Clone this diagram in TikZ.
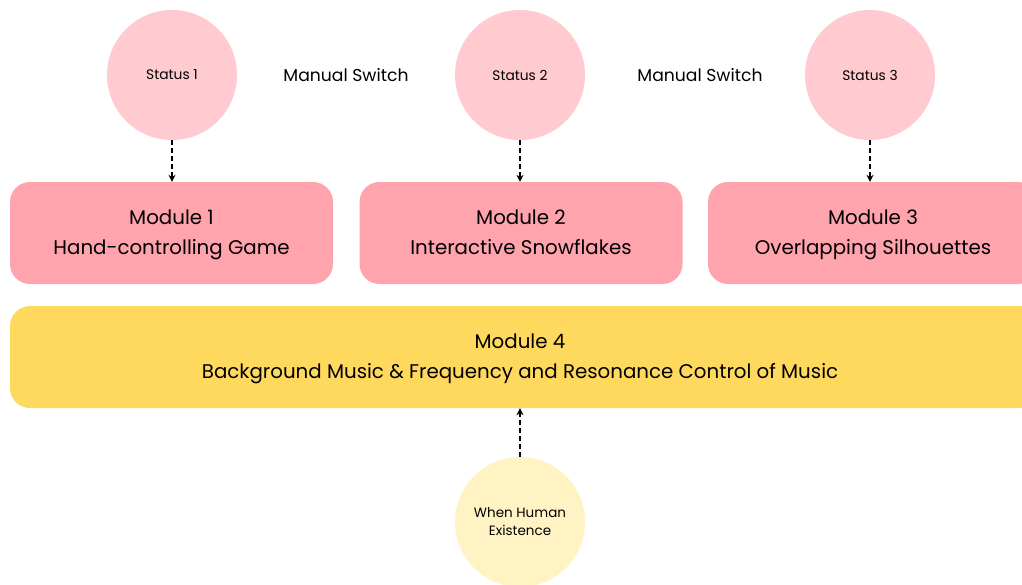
\documentclass[tikz,border=0pt]{standalone}
\usepackage{fontspec}
\setmainfont{Poppins}
\usetikzlibrary{arrows.meta}
\definecolor{statuspink}{RGB}{255,202,208}
\definecolor{modpink}{RGB}{255,163,173}
\definecolor{modyellow}{RGB}{255,217,94}
\definecolor{paleyellow}{RGB}{255,243,196}
\tikzset{
  statecirc/.style={circle, fill=statuspink, minimum size=130pt, inner sep=0pt, font=\fontsize{13.8}{16}\selectfont},
  humancirc/.style={circle, fill=paleyellow, minimum size=130pt, inner sep=0pt, font=\fontsize{13.5}{18}\selectfont, align=center},
  modbox/.style={rounded corners=20pt, fill=modpink, minimum width=323pt, minimum height=102pt, inner sep=0pt, align=center, font=\fontsize{19.8}{30}\selectfont},
  modtext/.style={align=center, inner sep=0pt, font=\fontsize{19.8}{30}\selectfont},
  switchlbl/.style={font=\fontsize{17.2}{20}\selectfont},
  conn/.style={line width=1.8pt, dash pattern=on 5pt off 3pt, -{Stealth[length=7pt,width=7pt]}}
}
\begin{document}
\begin{tikzpicture}[x=1pt,y=-1pt]
\useasboundingbox (0,0) rectangle (1022,584);
\clip (0,0) rectangle (1022,584);
\node[statecirc] (s1) at (172,75) {Status 1};
\node[statecirc] (s2) at (520,75) {Status 2};
\node[statecirc] (s3) at (870,75) {Status 3};
\node[switchlbl] (sw1) at (346,75) {Manual Switch};
\node[switchlbl] (sw2) at (700,75) {Manual Switch};
\node[modbox] (m1) at (171.5,233) {Module 1\strut\\Hand-controlling Game\strut};
\node[modbox] (m2) at (521,233) {Module 2\strut\\Interactive Snowflakes\strut};
\node[modbox, minimum width=330pt] (m3) at (873,233) {Module 3\strut\\Overlapping Silhouettes\strut};
\node[modbox, fill=modyellow, minimum width=1030pt] (m4) at (525,357) {};
\node[modtext] (m4t) at (520,357) {Module 4\strut\\Background Music \& Frequency and Resonance Control of Music\strut};
\node[humancirc] (h) at (520,522) {When Human\\Existence};
\draw[conn] (s1.south) -- (s1.south |- m1.north);
\draw[conn] (s2.south) -- (s2.south |- m2.north);
\draw[conn] (s3.south) -- (s3.south |- m3.north);
\draw[conn] (h.north) -- (h.north |- m4.south);
\end{tikzpicture}
\end{document}
